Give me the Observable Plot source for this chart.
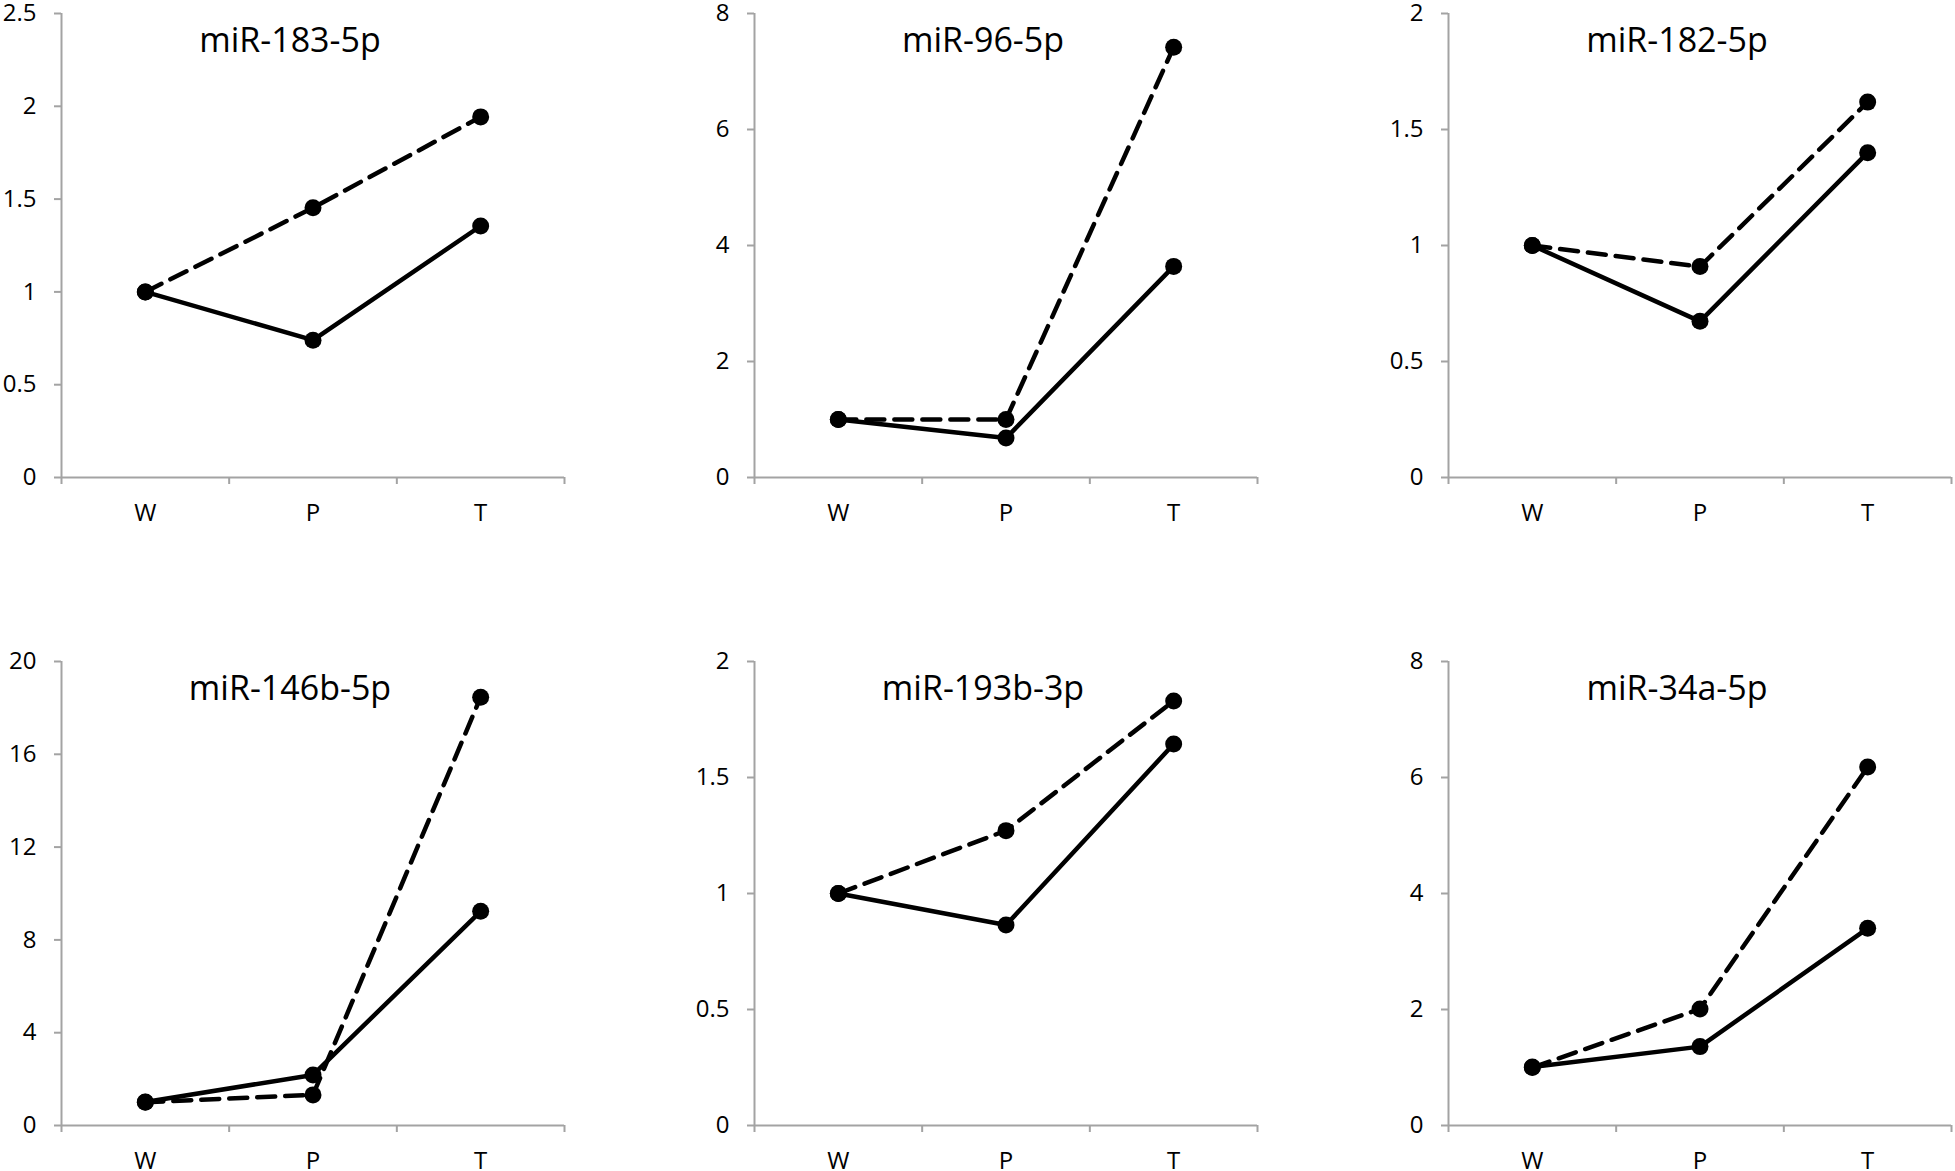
<!DOCTYPE html>
<html>
<head>
<meta charset="utf-8">
<script src="https://cdn.jsdelivr.net/npm/d3@7"></script>
<script src="https://cdn.jsdelivr.net/npm/@observablehq/plot@0.6"></script>
<style>
  html, body { margin: 0; padding: 0; background: #fff; overflow: hidden; }
  #wrap { position: relative; width: 1955px; height: 1171px; background: #fff; }
  .panel { position: absolute; }
</style>
</head>
<body>
<div id="wrap"></div>
<script>
const categories = ["W", "P", "T"];
const genes = ["miR-183-5p", "miR-96-5p", "miR-182-5p", "miR-146b-5p", "miR-193b-3p", "miR-34a-5p"];
const solidValues = [
  [1, 0.74, 1.355],
  [1, 0.68, 3.64],
  [1, 0.673, 1.40],
  [1.01, 2.18, 9.23],
  [1, 0.864, 1.644],
  [1.01, 1.36, 3.40]
];
const dashedValues = [
  [1, 1.453, 1.943],
  [1, 1.0, 7.42],
  [1, 0.909, 1.618],
  [1, 1.32, 18.46],
  [1, 1.271, 1.83],
  [1, 2.01, 6.18]
];
const yTicks = [
  [0, 0.5, 1, 1.5, 2, 2.5],
  [0, 2, 4, 6, 8],
  [0, 0.5, 1, 1.5, 2],
  [0, 4, 8, 12, 16, 20],
  [0, 0.5, 1, 1.5, 2],
  [0, 2, 4, 6, 8]
];

const wrap = document.getElementById("wrap");
const colLeft = [0, 693, 1387];
const rowTop = [0, 648];
const axisGray = "#a3a3a3";

genes.forEach((gene, k) => {
  const col = k % 3, row = Math.floor(k / 3);
  const width = col === 2 ? 1955 - colLeft[col] : 693;
  const marginLeft = 61, plotW = 503;
  const marginRight = width - marginLeft - plotW;
  const height = row === 0 ? 560 : 523;
  const marginTop = 13, plotH = 464;
  const marginBottom = height - marginTop - plotH;
  const yt = yTicks[k];
  const toRows = vals => categories.map((c, i) => ({cat: c, x: i + 0.5, y: vals[i]}));
  const solid = toRows(solidValues[k]);
  const dashed = toRows(dashedValues[k]);
  const chart = Plot.plot({
    width, height, marginLeft, marginRight, marginTop, marginBottom,
    style: {fontFamily: "'Open Sans', 'Noto Sans', sans-serif", fontSize: "24px", color: "black", background: "white", overflow: "visible"},
    x: {domain: [0, categories.length], label: null},
    y: {domain: [0, yt[yt.length - 1]], label: null},
    marks: [
      Plot.ruleY([0], {stroke: axisGray, strokeWidth: 2}),
      Plot.ruleX([0], {stroke: axisGray, strokeWidth: 2}),
      Plot.axisY({ticks: yt, tickFormat: d => String(d), tickSize: 7, tickPadding: 18, stroke: axisGray, strokeWidth: 2, label: null}),
      Plot.axisX({ticks: d3.range(categories.length + 1), tickFormat: () => "", tickSize: 7, stroke: axisGray, strokeWidth: 2, label: null}),
      Plot.axisX({ticks: categories.map((c, i) => i + 0.5), tickFormat: d => categories[Math.floor(d)], tickSize: 0, tickPadding: 26, label: null}),
      Plot.lineY(dashed, {x: "x", y: "y", stroke: "black", strokeWidth: 4.5, strokeDasharray: "18,10"}),
      Plot.lineY(solid, {x: "x", y: "y", stroke: "black", strokeWidth: 4.5}),
      Plot.dot(dashed, {x: "x", y: "y", r: 8.5, fill: "black"}),
      Plot.dot(solid, {x: "x", y: "y", r: 8.5, fill: "black"}),
      Plot.text([gene], {frameAnchor: "top", dx: -23, dy: 28, lineAnchor: "middle", fontSize: 34, fill: "black"})
    ]
  });
  chart.classList.add("panel");
  chart.style.left = colLeft[col] + "px";
  chart.style.top = rowTop[row] + "px";
  wrap.appendChild(chart);
});
</script>
</body>
</html>
